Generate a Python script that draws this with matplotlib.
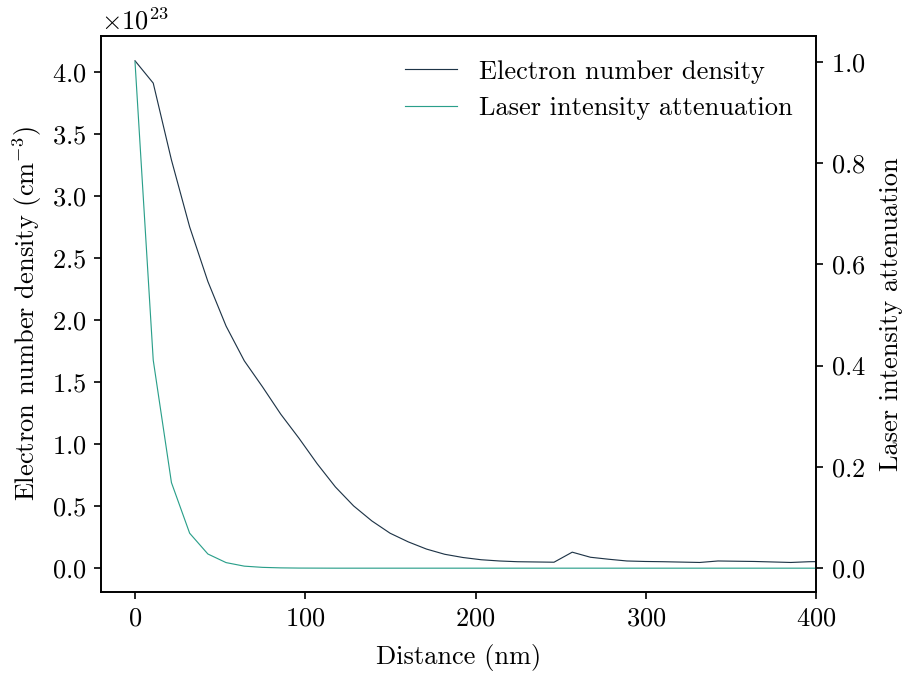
import matplotlib
matplotlib.use("Agg")
import matplotlib.pyplot as plt

plt.rcParams['font.family'] = ['cmr10', 'DejaVu Serif']
plt.rcParams['mathtext.fontset'] = 'cm'
plt.rcParams['axes.formatter.use_mathtext'] = True
plt.rcParams['axes.unicode_minus'] = False

distance_nm = [0.0, 10.7, 21.4, 32.1, 42.8, 53.5, 64.2, 74.9, 85.6, 96.3,
               107.0, 117.7, 128.4, 139.1, 149.8, 160.5, 171.2, 181.9, 192.6, 203.3,
               214.0, 224.7, 235.4, 246.1, 256.8, 267.5, 278.2, 288.9, 299.6, 310.3,
               321.0, 331.7, 342.4, 353.1, 363.8, 374.5, 385.2, 395.9, 406.6]

electron_density = [4.09, 3.91, 3.29, 2.75, 2.31, 1.95, 1.67, 1.46, 1.24, 1.046,
                    0.84, 0.653, 0.50, 0.379, 0.28, 0.21, 0.152, 0.11, 0.084, 0.066,
                    0.056, 0.05, 0.048, 0.046, 0.127, 0.086, 0.07, 0.056, 0.052, 0.05,
                    0.047, 0.044, 0.056, 0.054, 0.052, 0.048, 0.044, 0.05, 0.052]
electron_density = [v * 1e23 for v in electron_density]

laser_attenuation = [1.0, 0.411, 0.169, 0.069, 0.028, 0.011, 0.004, 0.0016, 0.0006, 0.0002,
                     0.0001, 0.0, 0.0, 0.0, 0.0, 0.0, 0.0, 0.0, 0.0, 0.0,
                     0.0, 0.0, 0.0, 0.0, 0.0, 0.0, 0.0, 0.0, 0.0, 0.0,
                     0.0, 0.0, 0.0, 0.0, 0.0, 0.0, 0.0, 0.0, 0.0]

x_ticks = [0, 100, 200, 300, 400]

c_e = '#1e3447'
c_l = '#2a9f8a'

fig = plt.figure(figsize=(6.02, 4.5), dpi=150)
ax = fig.add_axes([0.1118, 0.123, 0.7919, 0.8237])
ax2 = ax.twinx()

l1, = ax.plot(distance_nm, electron_density, color=c_e, lw=0.55, label='Electron number density')
l2, = ax2.plot(distance_nm, laser_attenuation, color=c_l, lw=0.55, label='Laser intensity attenuation')

ax.set_xlim(-20, 400)
ax.set_ylim(-0.194e23, 4.29e23)
ax2.set_ylim(-0.047, 1.051)
ax.set_xticks(x_ticks)
ax.set_yticks([i * 0.5e23 for i in range(9)])
ax2.set_yticks([0.0, 0.2, 0.4, 0.6, 0.8, 1.0])

fs = 12.7
ax.set_xlabel('Distance (nm)', fontsize=fs, labelpad=6.5)
ax.set_ylabel(r'Electron number density (cm$^{-3}$)', fontsize=fs, labelpad=3.5)
ax2.set_ylabel('Laser intensity attenuation', fontsize=fs, labelpad=6.5)
ax.tick_params(labelsize=fs)
ax2.tick_params(labelsize=fs)
ax.yaxis.get_offset_text().set_fontsize(fs)

ax.legend([l1, l2], [l1.get_label(), l2.get_label()], loc='upper right',
          frameon=False, fontsize=fs)

fig.savefig('out.png', dpi=150)
